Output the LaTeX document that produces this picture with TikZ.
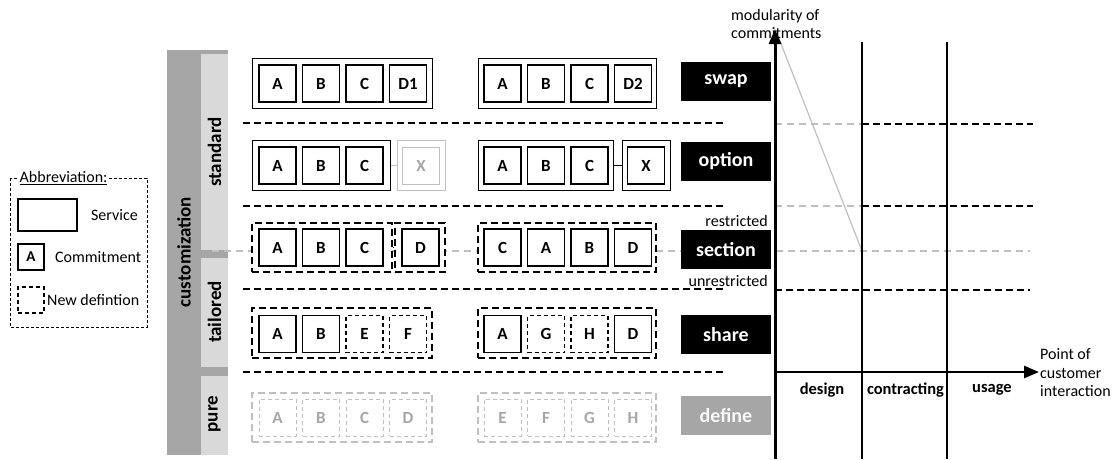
\documentclass[tikz,border=0pt]{standalone}
\usepackage{fontspec}
\setmainfont{Carlito}
\usetikzlibrary{arrows.meta}
\definecolor{dg}{HTML}{A6A6A6}
\definecolor{lg}{HTML}{D9D9D9}
\definecolor{gl}{HTML}{BFBFBF}
\tikzset{
 cbox/.style={draw, line width=1.3pt, fill=white, minimum width=37pt, minimum height=37pt, inner sep=0pt, font=\fontsize{17}{20}\selectfont\bfseries},
 ndbox/.style={cbox, dash pattern=on 4pt off 3pt},
 gcbox/.style={cbox, draw=gl, text=dg, line width=1pt},
 gndbox/.style={ndbox, draw=gl, text=dg, line width=1pt},
 svbox/.style={draw, line width=1pt, fill=white, inner sep=0pt, minimum height=50pt},
 dsvbox/.style={svbox, line width=1.3pt, dash pattern=on 7pt off 4pt},
 gsvbox/.style={dsvbox, draw=gl},
 lblbox/.style={fill=black, text=white, minimum width=90pt, minimum height=39pt, inner sep=0pt, font=\fontsize{20}{24}\selectfont\bfseries},
 sepline/.style={line width=1.3pt, dash pattern=on 7pt off 4pt},
 smalltxt/.style={font=\fontsize{16}{18.5}\selectfont, inner sep=0pt},
 sidetxt/.style={rotate=90, font=\fontsize{19}{22}\selectfont\bfseries, inner sep=0pt},
 phasetxt/.style={font=\fontsize{16.5}{19}\selectfont\bfseries, inner sep=0pt},
}
\begin{document}
\begin{tikzpicture}[x=1pt,y=-1pt]
\useasboundingbox (0,0) rectangle (1114,459);
% ---------- left bars
\fill[dg] (167,50) rectangle (228,455);
\fill[lg] (201,54) rectangle (228,250);
\fill[lg] (201,258) rectangle (228,367);
\fill[lg] (201,376) rectangle (228,455);
\node[sidetxt] (cust) at (184,252) {customization};
\node[sidetxt] (std) at (214.5,152) {standard};
\node[sidetxt] (tai) at (214.5,312) {tailored};
\node[sidetxt] (pur) at (214.5,414) {pure};
% ---------- background gray dashed line (restricted / unrestricted)
\draw[gl, line width=1.2pt, dash pattern=on 7pt off 5pt] (212,251) -- (1030,251);
% ---------- separators
\foreach \y in {123,206,289,372} \draw[sepline] (243,\y) -- (725,\y);
% ---------- legend
\draw[line width=1pt, dash pattern=on 3pt off 2pt] (10,178) rectangle (147,327);
\node[smalltxt, fill=white, inner sep=1.5pt, anchor=west] (abbr) at (18,178) {\underline{Abbreviation:}};
\node[draw, line width=1.2pt, minimum width=59pt, minimum height=32pt, inner sep=0pt] (lsv) at (47.5,215) {};
\node[smalltxt, anchor=east] (lsvt) at (138,215) {Service};
\node[draw, line width=1.2pt, minimum size=26pt, inner sep=0pt, font=\fontsize{15}{18}\selectfont\bfseries] (lcm) at (31,257) {A};
\node[smalltxt, anchor=west] (lcmt) at (55,257) {Commitment};
\node[draw, line width=1.2pt, dash pattern=on 4pt off 3pt, minimum size=26pt, inner sep=0pt] (lnd) at (31,300) {};
\node[smalltxt, anchor=west] (lndt) at (47,300) {New defintion};
% ---------- swap row
\node[svbox, minimum width=180pt] (swL) at (342,83) {};
\node[cbox] (swLa) at (277.5,83.5) {A};
\node[cbox] (swLb) at (321,83.5) {B};
\node[cbox] (swLc) at (364.5,83.5) {C};
\node[cbox] (swLd) at (408,83.5) {D1};
\node[svbox, minimum width=178pt] (swR) at (567,83) {};
\node[cbox] (swRa) at (502.5,83.5) {A};
\node[cbox] (swRb) at (546,83.5) {B};
\node[cbox] (swRc) at (589.5,83.5) {C};
\node[cbox] (swRd) at (633,83.5) {D2};
\node[lblbox] (swap) at (726,81.5) {swap};
% ---------- option row
\node[svbox, minimum width=138pt] (opL) at (321,165) {};
\node[cbox] (opLa) at (277.5,165.5) {A};
\node[cbox] (opLb) at (321,165.5) {B};
\node[cbox] (opLc) at (364.5,165.5) {C};
\node[svbox, draw=gl, minimum width=48pt] (opLx) at (421,165) {};
\node[gcbox] (opLxi) at (421,165.5) {X};
\draw[gl, line width=1pt] (opL.east) -- (opLx.west);
\node[svbox, minimum width=135pt] (opR) at (545.5,165) {};
\node[cbox] (opRa) at (502.5,165.5) {A};
\node[cbox] (opRb) at (546,165.5) {B};
\node[cbox] (opRc) at (589.5,165.5) {C};
\node[svbox, minimum width=48pt] (opRx) at (646,165) {};
\node[cbox] (opRxi) at (646,165.5) {X};
\draw[line width=1pt] (opR.east) -- (opRx.west);
\node[lblbox] (option) at (726,161.5) {option};
% ---------- section row
\node[dsvbox, minimum width=140pt, minimum height=49pt] (seL1) at (322,247.5) {};
\node[dsvbox, minimum width=50pt, minimum height=49pt] (seL2) at (420,247.5) {};
\draw[line width=1pt] (seL1.east) -- (seL2.west);
\node[cbox] (seLa) at (277.5,247.5) {A};
\node[cbox] (seLb) at (321,247.5) {B};
\node[cbox] (seLc) at (364.5,247.5) {C};
\node[cbox] (seLd) at (420.5,247.5) {D};
\node[dsvbox, minimum width=178pt, minimum height=49pt] (seR) at (567,247.5) {};
\node[cbox] (seRa) at (502.5,247.5) {C};
\node[cbox] (seRb) at (546,247.5) {A};
\node[cbox] (seRc) at (589.5,247.5) {B};
\node[cbox] (seRd) at (633,247.5) {D};
\node[lblbox] (section) at (726,249.5) {section};
\node[smalltxt, anchor=east] (restr) at (768,221) {restricted};
\node[smalltxt, anchor=east] (unrestr) at (768,281) {unrestricted};
% ---------- share row
\node[dsvbox, minimum width=180pt] (shL) at (342,333) {};
\node[cbox] (shLa) at (277.5,334) {A};
\node[cbox] (shLb) at (321,334) {B};
\node[ndbox] (shLc) at (364.5,334) {E};
\node[ndbox] (shLd) at (408,334) {F};
\node[dsvbox, minimum width=178pt] (shR) at (567,333) {};
\node[cbox] (shRa) at (502.5,334) {A};
\node[ndbox] (shRb) at (546,334) {G};
\node[ndbox] (shRc) at (589.5,334) {H};
\node[cbox] (shRd) at (633,334) {D};
\node[lblbox] (share) at (726,334.5) {share};
% ---------- define row
\node[gsvbox, minimum width=180pt, minimum height=49pt] (deL) at (342,417.5) {};
\node[gndbox] (deLa) at (277.5,417.5) {A};
\node[gndbox] (deLb) at (321,417.5) {B};
\node[gndbox] (deLc) at (364.5,417.5) {C};
\node[gndbox] (deLd) at (408,417.5) {D};
\node[gsvbox, minimum width=178pt, minimum height=49pt] (deR) at (567,417.5) {};
\node[gndbox] (deRa) at (502.5,417.5) {E};
\node[gndbox] (deRb) at (546,417.5) {F};
\node[gndbox] (deRc) at (589.5,417.5) {G};
\node[gndbox] (deRd) at (633,417.5) {H};
\node[lblbox, fill=dg, text=white!92!dg] (define) at (726,415.5) {define};
% ---------- chart
\coordinate (yb) at (775,459);
\coordinate (yt) at (775,29);
\coordinate (xl) at (775,372);
\coordinate (xr) at (1039,372);
\draw[gl, line width=1.2pt, dash pattern=on 7pt off 5pt] (775,124) -- (862,124);
\draw[gl, line width=1.2pt, dash pattern=on 7pt off 5pt] (775,206) -- (862,206);
\draw[sepline] (862,124) -- (1033,124);
\draw[sepline] (862,206) -- (1033,206);
\draw[sepline] (775,290) -- (1030,290);
\draw[gl, line width=1.2pt] (778,36) -- (862,251);
\draw[line width=1.5pt] (862,42) -- (862,459);
\draw[line width=1.5pt] (947,42) -- (947,459);
\draw[line width=3pt, -{Triangle[length=15pt,width=12pt]}] (yb) -- (yt);
\draw[line width=2.5pt, -{Triangle[length=15pt,width=12pt]}] (xl) -- (xr);
\node[phasetxt] (design) at (822,390) {design};
\node[phasetxt] (contr) at (905.5,390) {contracting};
\node[phasetxt] (usage) at (992,390) {usage};
\node[smalltxt, anchor=west, align=left] (poi) at (1040,373) {Point of\\customer\\interaction};
\node[smalltxt, anchor=west, align=left] (mod) at (731,24) {modularity of\\commitments};
\end{tikzpicture}
\end{document}
